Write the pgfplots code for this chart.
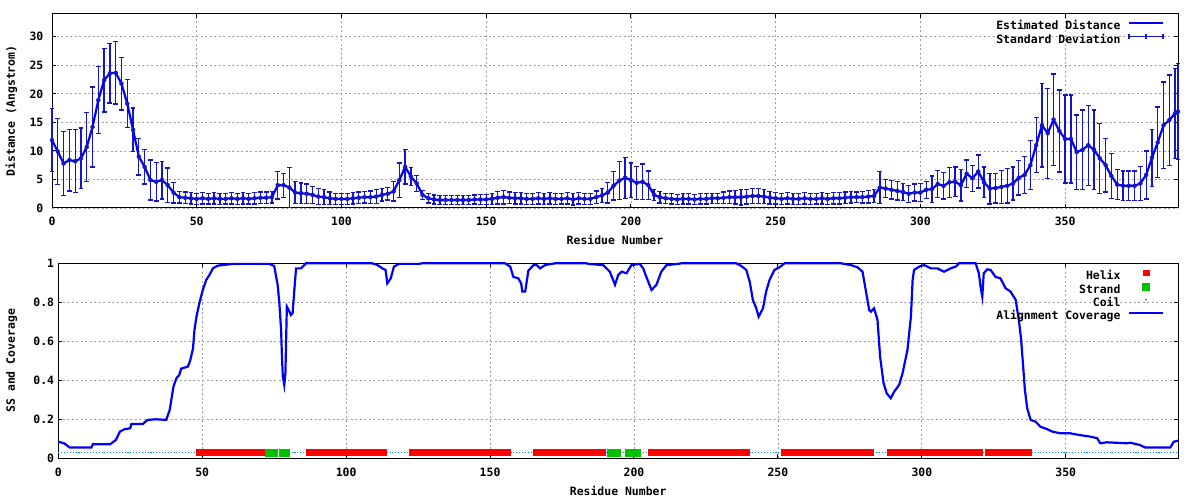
\documentclass[border=0pt]{standalone}
\usepackage{pgfplots}
\pgfplotsset{compat=1.18}
\usepackage{pgfplotstable}
\usepackage{fontspec}
\usetikzlibrary{calc}
\newfontfamily\gfont{DejaVu Sans Mono}
\newcommand{\gp}{\gfont\bfseries\fontsize{11.5}{13}\selectfont}
\definecolor{lineblue}{RGB}{0,0,255}
\definecolor{errblue}{RGB}{20,20,200}
\definecolor{gridgray}{RGB}{160,160,160}
\definecolor{helixred}{RGB}{255,0,0}
\definecolor{strandgreen}{RGB}{0,192,0}
\definecolor{coilblue}{RGB}{0,128,255}

\pgfplotstableread{
x y e
0 11.9 5.5
2 9.9 5.8
4 7.8 5.6
6 8.4 5.4
8 8.2 5.5
10 8.7 5.3
12 10.7 6.0
14 14.2 7.0
16 18.9 5.9
18 22.4 5.6
20 23.6 5.2
22 23.7 5.5
24 21.8 4.6
26 18.3 4.2
28 13.7 3.8
30 9.0 3.2
32 7.2 3.0
34 4.9 3.5
36 4.6 3.4
38 4.9 3.3
40 4.0 3.0
42 2.7 1.8
44 1.9 1.0
46 1.8 1.0
48 1.7 1.0
50 1.6 1.0
52 1.7 1.0
54 1.6 0.9
56 1.7 1.0
58 1.6 1.0
60 1.6 0.9
62 1.7 1.0
64 1.6 1.0
66 1.7 1.0
68 1.6 0.9
70 1.7 1.0
72 1.8 1.0
74 1.8 1.0
76 1.9 1.0
78 4.0 2.4
80 4.0 2.1
82 3.6 3.5
84 2.7 1.9
86 2.6 1.8
88 2.5 1.7
90 2.3 1.5
92 2.0 1.4
94 1.9 1.3
96 1.7 1.1
98 1.6 1.0
100 1.6 1.0
102 1.6 1.0
104 1.7 1.0
106 1.8 1.0
108 1.9 1.0
110 1.9 1.1
112 2.0 1.2
114 2.3 1.1
116 2.5 1.1
118 2.9 1.7
120 4.9 3.0
122 7.2 3.0
124 5.5 1.6
126 4.3 1.4
128 2.3 0.8
130 1.7 0.8
132 1.5 0.8
134 1.4 0.8
136 1.4 0.8
138 1.4 0.8
140 1.4 0.8
142 1.4 0.8
144 1.4 0.8
146 1.5 0.8
148 1.5 0.9
150 1.5 0.9
152 1.6 1.0
154 1.8 1.1
156 1.9 1.2
158 1.8 1.0
160 1.7 1.0
162 1.7 1.0
164 1.6 1.0
166 1.6 1.0
168 1.7 1.0
170 1.6 1.0
172 1.7 1.0
174 1.6 1.0
176 1.6 0.9
178 1.7 1.0
180 1.5 1.0
182 1.7 1.0
184 1.6 1.0
186 1.6 1.0
188 1.9 1.1
190 2.2 1.2
192 2.7 1.8
194 3.9 2.5
196 4.8 3.3
198 5.3 3.6
200 4.9 3.0
202 4.4 2.9
204 4.6 3.1
206 4.0 2.5
208 2.3 1.0
210 1.9 1.0
212 1.7 0.9
214 1.6 0.9
216 1.5 0.9
218 1.6 0.9
220 1.6 0.9
222 1.5 0.9
224 1.6 0.9
226 1.6 0.9
228 1.7 0.9
230 1.7 0.9
232 1.8 1.0
234 1.9 1.1
236 1.9 1.2
238 1.9 1.4
240 2.0 1.3
242 2.1 1.3
244 2.1 1.3
246 2.0 1.2
248 1.8 1.1
250 1.7 1.0
252 1.6 1.0
254 1.7 1.0
256 1.6 1.0
258 1.6 1.0
260 1.7 1.0
262 1.6 1.0
264 1.6 0.9
266 1.7 1.0
268 1.6 1.0
270 1.7 1.0
272 1.7 1.0
274 1.8 1.0
276 1.9 1.0
278 1.9 0.9
280 1.9 1.0
282 2.0 1.1
284 2.1 1.1
286 3.6 2.8
288 3.4 1.6
290 3.2 1.6
292 3.0 1.6
294 2.8 1.5
296 2.5 1.5
298 2.7 1.5
300 2.7 1.6
302 3.2 1.5
304 3.3 2.3
306 4.2 2.4
308 3.9 2.3
310 4.5 2.6
312 4.6 2.6
314 4.0 2.8
316 6.0 2.4
318 5.2 2.3
320 6.4 2.9
322 4.5 2.7
324 3.4 2.7
326 3.5 2.6
328 3.7 2.9
330 3.9 3.0
332 4.3 2.9
334 5.3 3.0
336 5.8 3.2
338 7.5 4.3
340 11.0 4.8
342 14.5 7.3
344 13.1 7.9
346 15.5 8.0
348 13.5 7.2
350 12.1 7.7
352 12.1 7.7
354 9.8 6.5
356 10.2 7.0
358 11.0 7.0
360 10.2 7.0
362 8.7 6.1
364 7.5 4.7
366 5.6 3.9
368 4.1 2.6
370 3.9 2.6
372 3.9 2.6
374 3.9 2.6
376 4.3 3.0
378 5.8 4.2
380 8.8 5.0
382 11.5 6.2
384 14.5 7.6
386 15.4 7.9
388 16.6 7.9
389 16.9 8.4
}\topdata

\pgfplotstableread{
x y
0 0.085
2 0.077
4 0.055
11.5 0.055
12 0.072
18 0.072
20 0.094
21.4 0.137
23 0.149
25 0.154
25.4 0.176
29.4 0.176
31 0.197
34 0.200
37.5 0.197
38.7 0.248
40 0.367
41 0.41
42 0.427
42.7 0.46
45 0.47
45.8 0.50
46.8 0.564
47.3 0.658
48 0.726
49 0.795
50.2 0.863
51.4 0.915
52.5 0.94
53.7 0.974
55.4 0.988
58.3 0.993
60.6 0.997
73.3 0.997
75 0.986
76.2 0.89
76.8 0.795
77.4 0.658
77.7 0.52
78 0.42
78.5 0.376
78.9 0.436
79.1 0.573
79.4 0.778
80.3 0.752
80.8 0.735
81.4 0.744
82 0.863
82.6 0.974
84.3 0.974
85.5 0.991
86 1.0
109 1.0
110.9 0.991
112.6 0.974
113.7 0.966
114.3 0.897
115.5 0.923
116.6 0.983
118.4 0.997
125.3 0.997
126.4 1.0
155.2 1.0
157 0.983
158.1 0.93
159.8 0.923
160.8 0.897
161.2 0.855
162.2 0.855
163.3 0.962
165.1 0.991
166.2 0.991
167.4 0.974
169.1 0.991
171.4 0.997
172.6 1.0
183.5 1.0
184.1 0.997
189.3 0.991
191.6 0.957
193.4 0.89
194.5 0.94
195.7 0.957
197.4 0.949
199.1 0.991
202 0.997
203.2 0.974
204.3 0.93
206.1 0.863
207.8 0.89
209.5 0.957
211.3 0.991
215.3 0.997
216.5 1.0
235.5 1.0
237.3 0.986
239 0.966
240.2 0.906
241.3 0.812
242.5 0.769
243.3 0.726
244.8 0.769
245.9 0.855
247.1 0.915
248.8 0.966
250.6 0.98
252.3 1.0
271.9 1.0
273 0.997
275.3 0.991
277.6 0.98
279.4 0.957
280.5 0.863
281.7 0.761
282.3 0.752
283.4 0.769
284.6 0.709
285.5 0.521
286.7 0.385
287.8 0.333
289.2 0.308
290.4 0.342
292.1 0.376
293.3 0.436
295 0.556
296.2 0.726
296.8 0.915
297.3 0.966
299.1 0.983
300.8 0.991
303.1 0.974
305.4 0.974
307.7 0.957
310 0.974
311.8 0.983
312.9 1.0
318.7 1.0
319.8 0.949
320.4 0.88
321 0.829
321.5 0.949
322.7 0.969
323.9 0.966
325.6 0.93
327.3 0.923
329.1 0.872
330.8 0.855
332.6 0.812
333.7 0.709
334.5 0.607
335.2 0.47
335.8 0.35
336.6 0.256
337.8 0.197
339.5 0.188
341.2 0.162
343.6 0.149
345.3 0.137
348.2 0.128
351.6 0.128
354.5 0.12
358.6 0.111
360.9 0.103
362 0.077
364.3 0.082
371.2 0.077
372.4 0.08
375.8 0.068
377.6 0.055
386.3 0.055
387.5 0.085
389 0.09
}\covdata

\pgfplotsset{gpaxis/.style={
  scale only axis,
  clip=false,
  axis line style={line width=1bp, black},
  tick style={black, line width=1bp},
  major tick length=4bp,
  tick align=inside,
  grid=major,
  major grid style={gridgray, line width=0.8bp, dash pattern=on 2bp off 2.5bp},
  tick label style={font=\gp, text=black},
  label style={font=\gp, text=black},
  /pgf/number format/assume math mode=true,
  xmin=0, xmax=389,
  xtick={0,50,...,350},
  xticklabel style={anchor=base, inner sep=0pt, yshift=-18bp},
  xlabel={Residue Number},
  xlabel style={at={(rel axis cs:0.5,0)}, anchor=base, yshift=-37bp},
  legend plot pos=right,
  legend cell align=right,
  legend style={draw=none, fill=none, inner sep=0pt, outer sep=0pt, text=black,
    font=\gp, at={(rel axis cs:1,1)}, anchor=north east,
    xshift=-14bp, yshift=-6.7bp, column sep=7.3bp, row sep=0pt,
    nodes={inner sep=0pt, text height=9.2bp, text depth=3.8bp, text=black}},
  legend image code/.code={\draw[mark repeat=2, mark phase=2, #1] plot coordinates {(0bp,4bp) (17bp,4bp) (34bp,4bp)};},
}}

\begin{document}
\begin{tikzpicture}[color=errblue, line width=1.3bp]
\useasboundingbox (0,0) rectangle (1200bp,500bp);
% ---------- top panel ----------
\begin{axis}[gpaxis,
  at={(52bp,292bp)}, anchor=south west,
  width=1126bp, height=194bp,
  ymin=0, ymax=34,
  ytick={0,5,...,30},
  yticklabel style={anchor=east, inner sep=0pt, xshift=-8.5bp},
  ylabel={Distance (Angstrom)},
  ylabel style={at={($(rel axis cs:0,0.5)+(-37bp,0)$)}, anchor=base},
  reverse legend,
]
\addplot[color=errblue, only marks, mark=none,
  legend image code/.code={\draw[errblue, line width=1.3bp] (0bp,4bp)--(34bp,4bp) (0bp,1.5bp)--(0bp,6.5bp) (17bp,1.5bp)--(17bp,6.5bp) (34bp,1.5bp)--(34bp,6.5bp);},
  error bars/.cd, y dir=both, y explicit, error mark=-,
  error bar style={line width=1.3bp, draw=errblue, color=errblue, solid},
  error mark options={rotate=90, mark size=2.4bp, line width=1.3bp, draw=errblue, color=errblue},
  ] table[x=x, y=y, y error=e] {\topdata};
\addlegendentry{Standard Deviation}
\addplot[lineblue, line width=2.2bp, mark=none] table[x=x, y=y] {\topdata};
\addlegendentry{Estimated Distance}
\end{axis}
% ---------- bottom panel ----------
\begin{axis}[gpaxis,
  at={(58.3bp,41.7bp)}, anchor=south west,
  width=1119.7bp, height=195bp,
  ymin=0, ymax=1,
  ytick={0,0.2,...,1.0},
  yticklabels={0,0.2,0.4,0.6,0.8,1},
  yticklabel style={anchor=east, inner sep=0pt, xshift=-4bp},
  ylabel={SS and Coverage},
  ylabel style={at={($(rel axis cs:0,0.5)+(-43.3bp,0)$)}, anchor=base},
]
\addplot[coilblue, line width=1.1bp, dash pattern=on 1.1bp off 1.78bp, mark=none, forget plot] coordinates {(0,0.03) (389,0.03)};
\addplot[only marks, mark=square*, mark size=2.8bp, helixred, line width=0.4pt, mark options={draw=helixred, fill=helixred, line width=0.4pt}] coordinates {
(49,0.03)(50,0.03)(51,0.03)(52,0.03)(53,0.03)(54,0.03)(55,0.03)(56,0.03)(57,0.03)(58,0.03)(59,0.03)(60,0.03)
(61,0.03)(62,0.03)(63,0.03)(64,0.03)(65,0.03)(66,0.03)(67,0.03)(68,0.03)(69,0.03)(70,0.03)(71,0.03)
(87,0.03)(88,0.03)(89,0.03)(90,0.03)(91,0.03)(92,0.03)(93,0.03)(94,0.03)(95,0.03)(96,0.03)(97,0.03)(98,0.03)
(99,0.03)(100,0.03)(101,0.03)(102,0.03)(103,0.03)(104,0.03)(105,0.03)(106,0.03)(107,0.03)(108,0.03)(109,0.03)
(110,0.03)(111,0.03)(112,0.03)(113,0.03)
(123,0.03)(124,0.03)(125,0.03)(126,0.03)(127,0.03)(128,0.03)(129,0.03)(130,0.03)(131,0.03)(132,0.03)(133,0.03)
(134,0.03)(135,0.03)(136,0.03)(137,0.03)(138,0.03)(139,0.03)(140,0.03)(141,0.03)(142,0.03)(143,0.03)(144,0.03)
(145,0.03)(146,0.03)(147,0.03)(148,0.03)(149,0.03)(150,0.03)(151,0.03)(152,0.03)(153,0.03)(154,0.03)(155,0.03)(156,0.03)
(166,0.03)(167,0.03)(168,0.03)(169,0.03)(170,0.03)(171,0.03)(172,0.03)(173,0.03)(174,0.03)(175,0.03)(176,0.03)
(177,0.03)(178,0.03)(179,0.03)(180,0.03)(181,0.03)(182,0.03)(183,0.03)(184,0.03)(185,0.03)(186,0.03)(187,0.03)
(188,0.03)(189,0.03)
(206,0.03)(207,0.03)(208,0.03)(209,0.03)(210,0.03)(211,0.03)(212,0.03)(213,0.03)(214,0.03)(215,0.03)(216,0.03)
(217,0.03)(218,0.03)(219,0.03)(220,0.03)(221,0.03)(222,0.03)(223,0.03)(224,0.03)(225,0.03)(226,0.03)(227,0.03)
(228,0.03)(229,0.03)(230,0.03)(231,0.03)(232,0.03)(233,0.03)(234,0.03)(235,0.03)(236,0.03)(237,0.03)(238,0.03)(239,0.03)
(252,0.03)(253,0.03)(254,0.03)(255,0.03)(256,0.03)(257,0.03)(258,0.03)(259,0.03)(260,0.03)(261,0.03)(262,0.03)
(263,0.03)(264,0.03)(265,0.03)(266,0.03)(267,0.03)(268,0.03)(269,0.03)(270,0.03)(271,0.03)(272,0.03)(273,0.03)
(274,0.03)(275,0.03)(276,0.03)(277,0.03)(278,0.03)(279,0.03)(280,0.03)(281,0.03)(282,0.03)
(289,0.03)(290,0.03)(291,0.03)(292,0.03)(293,0.03)(294,0.03)(295,0.03)(296,0.03)(297,0.03)(298,0.03)(299,0.03)
(300,0.03)(301,0.03)(302,0.03)(303,0.03)(304,0.03)(305,0.03)(306,0.03)(307,0.03)(308,0.03)(309,0.03)(310,0.03)
(311,0.03)(312,0.03)(313,0.03)(314,0.03)(315,0.03)(316,0.03)(317,0.03)(318,0.03)(319,0.03)(320,0.03)
(323,0.03)(324,0.03)(325,0.03)(326,0.03)(327,0.03)(328,0.03)(329,0.03)(330,0.03)(331,0.03)(332,0.03)(333,0.03)
(334,0.03)(335,0.03)(336,0.03)(337,0.03)
};
\addlegendentry{Helix}
\addplot[only marks, mark=square*, mark size=3.4bp, strandgreen, line width=0.4pt, mark options={draw=strandgreen, fill=strandgreen, line width=0.4pt}] coordinates {
(73,0.03)(74,0.03)(75,0.03)(78,0.03)(79,0.03)
(192,0.03)(193,0.03)(194,0.03)(198,0.03)(199,0.03)(200,0.03)(201,0.03)
};
\addlegendentry{Strand}
\addlegendimage{legend image code/.code={\fill[coilblue] (17bp,4bp) circle (0.7bp);}}
\addlegendentry{Coil}
\addplot[lineblue, line width=2.2bp, mark=none] table[x=x, y=y] {\covdata};
\addlegendentry{Alignment Coverage}
\end{axis}
\end{tikzpicture}
\end{document}
